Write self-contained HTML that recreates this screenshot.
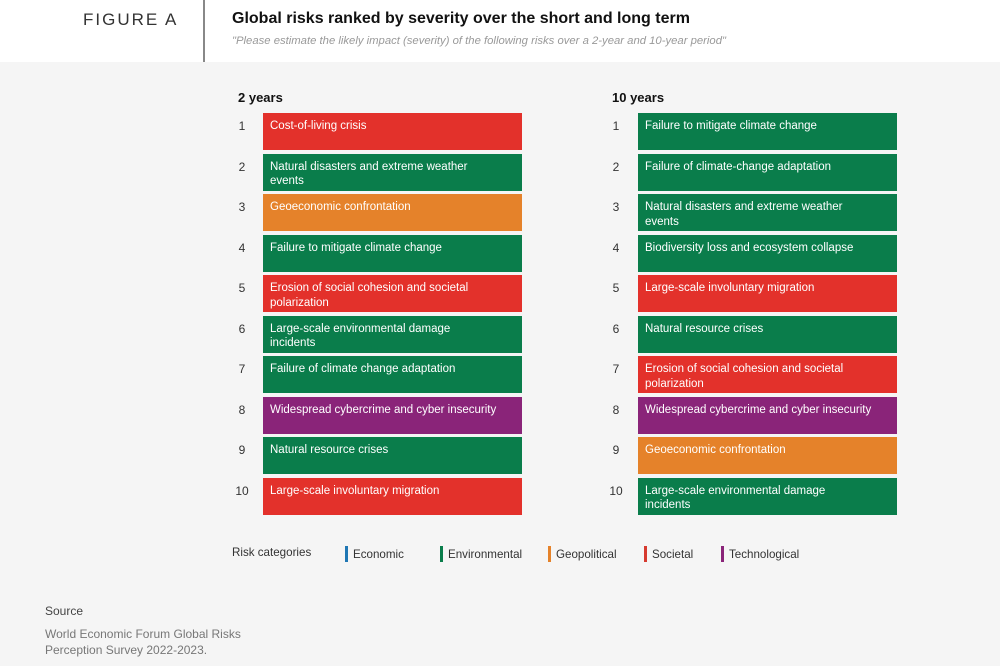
<!DOCTYPE html>
<html><head><meta charset="utf-8"><style>
body{margin:0;width:1000px;height:666px;background:#f5f5f5;font-family:"Liberation Sans",sans-serif;position:relative;overflow:hidden}
.hdr{position:absolute;left:0;top:0;width:1000px;height:62px;background:#fff}
.fig{position:absolute;left:83px;top:10px;font-size:17px;letter-spacing:2px;color:#333}
.div{position:absolute;left:203px;top:0;width:2px;height:62px;background:#888}
.title{position:absolute;left:232px;top:10px;font-size:16px;font-weight:bold;color:#111}
.sub{position:absolute;left:232px;top:35px;font-size:11.3px;font-style:italic;color:#999}
.colh{position:absolute;top:90px;font-size:13px;font-weight:bold;color:#111}
.num{position:absolute;font-size:12px;color:#333;width:20px;text-align:center}
.box{position:absolute;width:245px;padding:6px 7px 0 7px;height:31px;font-size:11.5px;line-height:14.5px;color:#fff;white-space:pre-line}
.leg{position:absolute;top:546px;font-size:11.6px;color:#333}
.sw{display:inline-block;width:3px;height:16px;vertical-align:-4px;margin-right:5px}
.src{position:absolute;left:45px;font-size:12px;color:#444}
</style></head><body>
<div class="hdr"></div>
<div class="fig">FIGURE A</div>
<div class="div"></div>
<div class="title">Global risks ranked by severity over the short and long term</div>
<div class="sub">"Please estimate the likely impact (severity) of the following risks over a 2-year and 10-year period"</div>
<div class="colh" style="left:238px">2 years</div>
<div class="colh" style="left:612px">10 years</div>
<div id="lists"></div>
<div class="leg" style="left:232px">Risk categories</div>
<div class="leg" style="left:345px"><span class="sw" style="background:#1f77b4"></span>Economic</div>
<div class="leg" style="left:440px"><span class="sw" style="background:#0a7d4b"></span>Environmental</div>
<div class="leg" style="left:548px"><span class="sw" style="background:#e5822a"></span>Geopolitical</div>
<div class="leg" style="left:644px"><span class="sw" style="background:#d63a2f"></span>Societal</div>
<div class="leg" style="left:721px"><span class="sw" style="background:#8a2479"></span>Technological</div>
<div class="src" style="top:604px">Source</div>
<div class="src" style="top:626px;color:#777;line-height:16px">World Economic Forum Global Risks<br>Perception Survey 2022-2023.</div>
<script>
const ranks=[1,2,3,4,5,6,7,8,9,10];
const short=["Cost-of-living crisis","Natural disasters and extreme weather\nevents","Geoeconomic confrontation","Failure to mitigate climate change","Erosion of social cohesion and societal\npolarization","Large-scale environmental damage\nincidents","Failure of climate change adaptation","Widespread cybercrime and cyber insecurity","Natural resource crises","Large-scale involuntary migration"];
const shortCat=["soc","env","geo","env","soc","env","env","tech","env","soc"];
const long=["Failure to mitigate climate change","Failure of climate-change adaptation","Natural disasters and extreme weather\nevents","Biodiversity loss and ecosystem collapse","Large-scale involuntary migration","Natural resource crises","Erosion of social cohesion and societal\npolarization","Widespread cybercrime and cyber insecurity","Geoeconomic confrontation","Large-scale environmental damage\nincidents"];
const longCat=["env","env","env","env","soc","env","soc","tech","geo","env"];
const colors={soc:"#e3312b",env:"#0a7d4b",geo:"#e5822a",tech:"#8a2479",eco:"#1f77b4"};
const root=document.getElementById('lists');
function y(i){return 113+i*40.55;}
function col(labels,cats,numX,boxX,prefix){
 labels.forEach((t,i)=>{
  const n=document.createElement('div');n.className='num';
  
  
  n.style.left=numX+'px';n.style.top=(y(i)+6)+'px';n.textContent=ranks[i];root.appendChild(n);
  const b=document.createElement('div');b.className='box';
  
  
  b.style.left=boxX+'px';b.style.top=y(i)+'px';b.style.background=colors[cats[i]];b.textContent=t;root.appendChild(b);
 });
}
col(short,shortCat,232,263,'two-year');
col(long,longCat,606,638,'ten-year');
</script>
</body></html>
